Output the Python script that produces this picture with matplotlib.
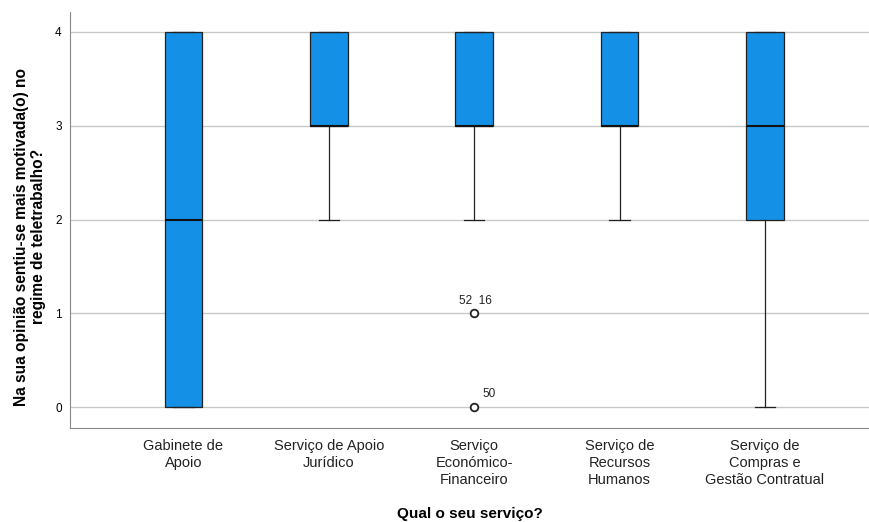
import matplotlib.pyplot as plt

plt.rcParams['font.family'] = ['Liberation Sans', 'DejaVu Sans']

servicos = ["Gabinete de\nApoio", "Serviço de Apoio\nJurídico", "Serviço\nEconómico-\nFinanceiro",
            "Serviço de\nRecursos\nHumanos", "Serviço de\nCompras e\nGestão Contratual"]
q1 = [0, 3, 3, 3, 2]
mediana = [2, 3, 3, 3, 3]
q3 = [4, 4, 4, 4, 4]
wlo = [0, 2, 2, 2, 0]
whi = [4, 4, 4, 4, 4]
outliers = [[], [], [1, 0], [], []]
outlier_labels = [[], [], ["52  16", "50"], [], []]

stats = []
for i in range(len(servicos)):
    stats.append(dict(med=mediana[i], q1=q1[i], q3=q3[i], whislo=wlo[i], whishi=whi[i],
                      fliers=outliers[i]))

fig = plt.figure(figsize=(8.7, 5.22), dpi=100)
ax = fig.add_axes([0.0805, 0.18, 0.919, 0.797])

for y in range(5):
    ax.axhline(y, color='#c8c8c8', lw=1, zorder=0)

ax.bxp(stats, positions=range(len(servicos)), widths=0.26, patch_artist=True,
       boxprops=dict(facecolor='#1490E6', edgecolor='#222222', lw=0.9),
       medianprops=dict(color='#111111', lw=1.5),
       whiskerprops=dict(color='#222222', lw=0.9),
       capprops=dict(color='#222222', lw=0.9), capwidths=0.14,
       flierprops=dict(marker='o', markerfacecolor='white', markeredgecolor='#222222',
                       markersize=5.5, markeredgewidth=1.3))

for i, pts in enumerate(outliers):
    for v, lab in zip(pts, outlier_labels[i]):
        ax.text(i + 0.06 if lab == "50" else i + 0.01, v + 0.07, lab, fontsize=8.5,
                ha='left' if lab == "50" else 'center', va='bottom', color='#222222')

ax.set_xlim(-0.78, 4.72)
ax.set_ylim(-0.224, 4.213)
ax.set_yticks(range(5))
ax.set_xticks(range(len(servicos)))
ax.set_xticklabels(servicos, fontsize=10.5, color='#222222', linespacing=1.25)
ax.tick_params(axis='y', labelsize=8.5, length=0, pad=6)
ax.tick_params(axis='x', length=0, pad=8)
ax.spines['top'].set_visible(False)
ax.spines['right'].set_visible(False)
ax.spines['left'].set_color('#888888')
ax.spines['bottom'].set_color('#888888')
ax.set_ylabel("Na sua opinião sentiu-se mais motivada(o) no\nregime de teletrabalho?",
              fontsize=11.2, fontweight='bold', linespacing=1.2,
              family=['Liberation Sans Narrow', 'Liberation Sans', 'DejaVu Sans'])
ax.yaxis.set_label_coords(-0.03, 0.46)
ax.set_xlabel("Qual o seu serviço?", fontsize=11, fontweight='bold')
ax.xaxis.set_label_coords(0.5, -0.19)

fig.savefig("out.png", dpi=100)
